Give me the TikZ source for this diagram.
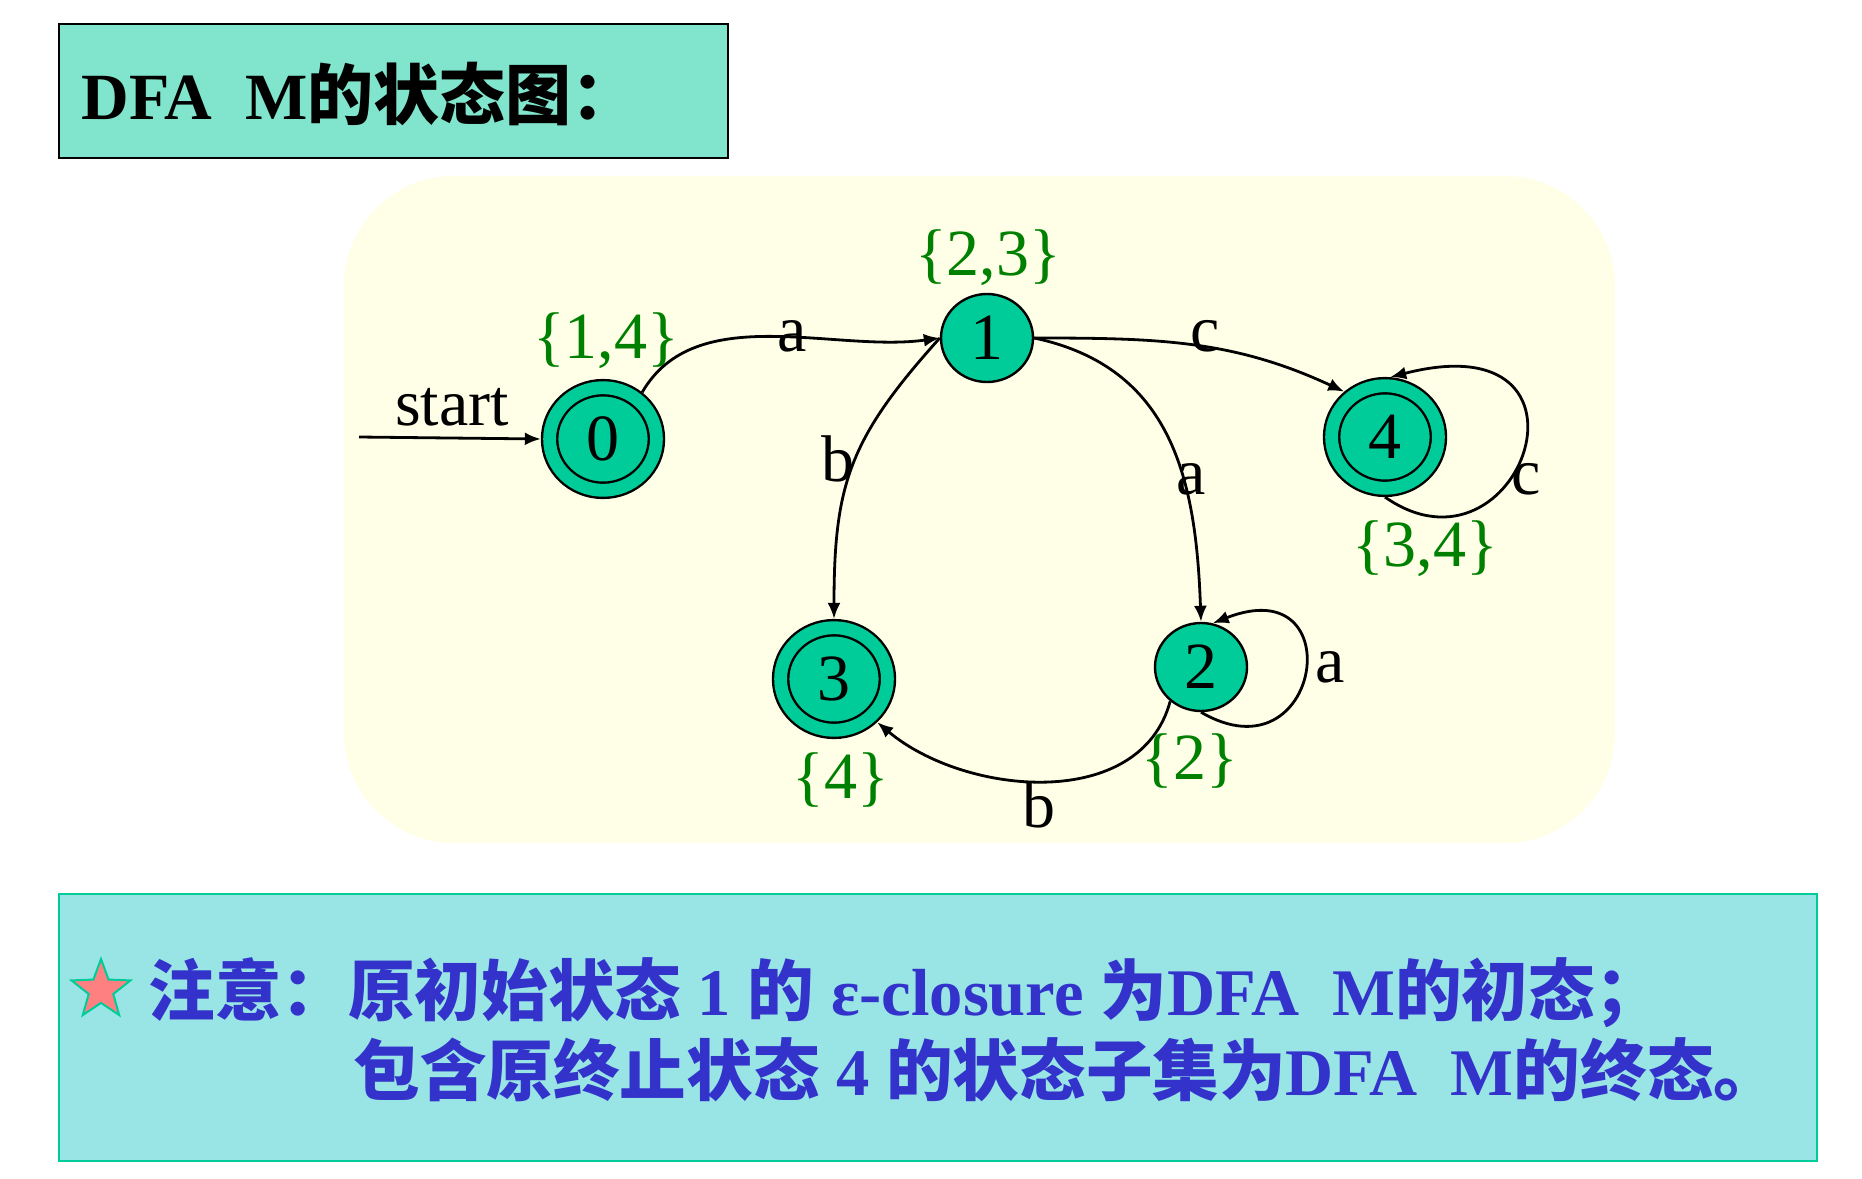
\documentclass[tikz,border=0pt]{standalone}
\usepackage{fontspec}
\setmainfont{Liberation Serif}
\newfontfamily\cjk{Noto Sans CJK SC}
\newcommand{\zh}[1]{{\cjk #1}}
\usetikzlibrary{shapes, arrows.meta, positioning}

\definecolor{titlefill}{RGB}{128,229,204}
\definecolor{bgyellow}{RGB}{255,255,232}
\definecolor{stategreen}{RGB}{0,204,153}
\definecolor{setgreen}{RGB}{0,128,0}
\definecolor{notefill}{RGB}{153,229,229}
\definecolor{noteline}{RGB}{0,204,153}
\definecolor{noteblue}{RGB}{51,51,204}
\definecolor{starfill}{RGB}{255,128,128}

\begin{document}
\begin{tikzpicture}[x=0.5pt, y=-0.5pt, >={Latex[length=8pt, width=6.5pt]},
    state/.style={draw, ellipse, fill=stategreen, line width=1.2pt, inner sep=0pt,
        minimum width=46pt, minimum height=44pt, font=\fontsize{33}{33}\selectfont},
    accepting/.style={double=stategreen, double distance=6.4pt,
        minimum width=53.4pt, minimum height=51.3pt, outer sep=4.4pt},
    setlabel/.style={text=setgreen, font=\fontsize{33}{33}\selectfont},
    sym/.style={font=\fontsize{33}{33}\selectfont},
    trans/.style={->, line width=1.4pt},
    notetext/.style={text=noteblue, font=\fontsize{33.3}{33.3}\selectfont\bfseries,
        anchor=base west, inner sep=0pt}]
    \useasboundingbox (0,0) rectangle (1862,1178);
    \fill[white] (0,0) rectangle (1862,1178);

    % title
    \draw[fill=titlefill, line width=1.2pt] (59,24) rectangle (728,158);
    \node[anchor=base west, inner sep=0pt, font=\fontsize{33}{33}\selectfont\bfseries] (title) at (81,119) {DFA\ \ M\zh{的状态图：}};

    % diagram
    \fill[bgyellow, rounded corners=55pt] (344,176) rectangle (1615,843);

    \node[state, accepting] (q0) at (603,439) {0};
    \node[state] (q1) at (987,338) {1};
    \node[state] (q2) at (1201,667) {2};
    \node[state, accepting] (q3) at (834,679) {3};
    \node[state, accepting] (q4) at (1385,437) {4};

    \node[setlabel] (s0) at (606,341) {\{1,4\}};
    \node[setlabel] (s1) at (988,258) {\{2,3\}};
    \node[setlabel] (s2) at (1190,761) {\{2\}};
    \node[setlabel] (s3) at (841,780) {\{4\}};
    \node[setlabel] (s4) at (1425,549) {\{3,4\}};

    \coordinate (init) at (359,437);
    \node[sym] (startlbl) at (452,407) {start};
    \draw[trans] (init) -- (q0.west);
    \draw[trans] (q0.50) to[out=60, in=188, looseness=0.9] (q1.west);
    \draw[trans] (q1.east) to[out=0, in=155] (q4.132);
    \draw[trans] (q1.east) to[out=-12, in=92, looseness=1.1] (q2.north);
    \draw[trans] (q1.west) to[out=228, in=90, looseness=1.15] (q3.north);
    \draw[trans] (q2.228) to[out=-105, in=-40] (q3.-45);
    \draw[trans] (q2.south) .. controls +(120,70) and +(140,-55) .. (q2.75);
    \draw[trans] (q4.south) .. controls +(135,94) and +(225,-58) .. (q4.85);

    \node[sym] (la01) at (792,336) {a};
    \node[sym] (lc14) at (1205,336) {c};
    \node[sym] (la12) at (1191,479) {a};
    \node[sym] (lb13) at (838,459) {b};
    \node[sym] (lb23) at (1039,805) {b};
    \node[sym] (la22) at (1330,667) {a};
    \node[sym] (lc44) at (1526,479) {c};

    % note
    \draw[noteline, fill=notefill, line width=1.2pt] (59,894) rectangle (1817,1161);
    \node[star, star points=5, star point ratio=2.4, minimum size=31pt, inner sep=0pt,
        fill=starfill, draw=noteline, line width=1pt] (mark) at (101,990) {};
    \node[notetext] (line1) at (148,1015) {\zh{注意：原初始状态} 1 \zh{的} ε-closure \zh{为}DFA\ \ M\zh{的初态；}};
    \node[notetext] (line2) at (353,1095) {\zh{包含原终止状态} 4 \zh{的状态子集为}DFA\ \ M\zh{的终态。}};
\end{tikzpicture}
\end{document}
